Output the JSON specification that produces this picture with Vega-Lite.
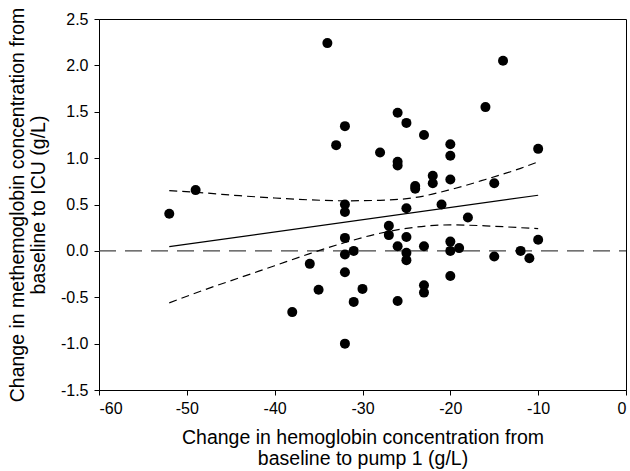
{
  "$schema": "https://vega.github.io/schema/vega-lite/v6.json",
  "autosize": {"type": "none"},
  "padding": {"left": 99, "top": 19, "right": 4, "bottom": 81},
  "width": 527,
  "height": 371,
  "background": "white",
  "config": {
    "view": {"stroke": "#000", "strokeWidth": 1},
    "font": "Liberation Sans",
    "axis": {
      "grid": false,
      "domainColor": "#000",
      "tickColor": "#000",
      "tickSize": 5,
      "labelFont": "Liberation Sans",
      "labelFontSize": 16,
      "labelColor": "#000",
      "titleFont": "Liberation Sans",
      "titleFontSize": 19.5,
      "titleFontWeight": "normal",
      "titleColor": "#000"
    }
  },
  "datasets": {
    "pts": [
      {"x": -52, "y": 0.40}, {"x": -49, "y": 0.655}, {"x": -38, "y": -0.66}, {"x": -36, "y": -0.14},
      {"x": -35, "y": -0.42}, {"x": -34, "y": 2.24}, {"x": -33, "y": 1.14}, {"x": -32, "y": 1.345},
      {"x": -32, "y": 0.50}, {"x": -32, "y": 0.42}, {"x": -32, "y": 0.14}, {"x": -32, "y": -0.04},
      {"x": -32, "y": -0.23}, {"x": -32, "y": -1.0}, {"x": -31, "y": 0.0}, {"x": -31, "y": -0.55},
      {"x": -30, "y": -0.41}, {"x": -28, "y": 1.06}, {"x": -27, "y": 0.27}, {"x": -27, "y": 0.17},
      {"x": -26, "y": 1.49}, {"x": -26, "y": 0.96}, {"x": -26, "y": 0.92}, {"x": -26, "y": 0.05},
      {"x": -26, "y": -0.54}, {"x": -25, "y": 1.38}, {"x": -25, "y": 0.46}, {"x": -25, "y": 0.15},
      {"x": -25, "y": -0.02}, {"x": -25, "y": -0.10}, {"x": -24, "y": 0.70}, {"x": -24, "y": 0.67},
      {"x": -23, "y": 1.25}, {"x": -23, "y": 0.05}, {"x": -23, "y": -0.37}, {"x": -23, "y": -0.45},
      {"x": -22, "y": 0.81}, {"x": -22, "y": 0.73}, {"x": -21, "y": 0.50}, {"x": -20, "y": 1.15},
      {"x": -20, "y": 1.025}, {"x": -20, "y": 0.77}, {"x": -20, "y": 0.10}, {"x": -20, "y": 0.0},
      {"x": -20, "y": -0.27}, {"x": -19, "y": 0.03}, {"x": -18, "y": 0.36}, {"x": -16, "y": 1.55},
      {"x": -15, "y": 0.73}, {"x": -15, "y": -0.06}, {"x": -14, "y": 2.05}, {"x": -12, "y": 0.0},
      {"x": -11, "y": -0.08}, {"x": -10, "y": 1.10}, {"x": -10, "y": 0.12}
    ],
    "zero": [{"x": -60, "y": 0}, {"x": 0, "y": 0}],
    "fit": [{"x": -52, "y": 0.045}, {"x": -10, "y": 0.60}],
    "ci": [
      {"x": -52, "y": 0.65, "b": "upper"}, {"x": -48, "y": 0.625, "b": "upper"}, {"x": -44, "y": 0.595, "b": "upper"},
      {"x": -40, "y": 0.57, "b": "upper"}, {"x": -36, "y": 0.55, "b": "upper"}, {"x": -32, "y": 0.54, "b": "upper"},
      {"x": -28, "y": 0.545, "b": "upper"}, {"x": -24, "y": 0.575, "b": "upper"}, {"x": -20, "y": 0.66, "b": "upper"},
      {"x": -16, "y": 0.77, "b": "upper"}, {"x": -12, "y": 0.89, "b": "upper"}, {"x": -10, "y": 0.96, "b": "upper"},
      {"x": -52, "y": -0.56, "b": "lower"}, {"x": -48, "y": -0.42, "b": "lower"}, {"x": -44, "y": -0.29, "b": "lower"},
      {"x": -40, "y": -0.16, "b": "lower"}, {"x": -36, "y": -0.03, "b": "lower"}, {"x": -32, "y": 0.09, "b": "lower"},
      {"x": -28, "y": 0.19, "b": "lower"}, {"x": -24, "y": 0.255, "b": "lower"}, {"x": -20, "y": 0.28, "b": "lower"},
      {"x": -16, "y": 0.27, "b": "lower"}, {"x": -12, "y": 0.25, "b": "lower"}, {"x": -10, "y": 0.24, "b": "lower"}
    ]
  },
  "encoding": {
    "x": {
      "field": "x", "type": "quantitative",
      "scale": {"domain": [-60, 0], "nice": false, "zero": false},
      "axis": {
        "values": [-60, -50, -40, -30, -20, -10, 0],
        "labelExpr": "replace(format(datum.value, 'd'), '\u2212', '-')",
        "labelPadding": 5,
        "title": ["Change in hemoglobin concentration from", "baseline to pump 1 (g/L)"],
        "titlePadding": 12,
        "titleLineHeight": 21
      }
    },
    "y": {
      "field": "y", "type": "quantitative",
      "scale": {"domain": [-1.5, 2.5], "nice": false, "zero": false},
      "axis": {
        "values": [-1.5, -1.0, -0.5, 0.0, 0.5, 1.0, 1.5, 2.0, 2.5],
        "labelExpr": "replace(format(datum.value, '.1f'), '\u2212', '-')",
        "labelPadding": 6,
        "title": ["Change in methemoglobin concentration from", "baseline to ICU (g/L)"],
        "titlePadding": 12,
        "titleLineHeight": 21
      }
    }
  },
  "layer": [
    {
      "data": {"name": "zero"},
      "mark": {"type": "line", "color": "#444", "strokeWidth": 1.2, "strokeDash": [17, 9]}
    },
    {
      "data": {"name": "fit"},
      "mark": {"type": "line", "color": "#000", "strokeWidth": 1.2}
    },
    {
      "data": {"name": "ci"},
      "mark": {"type": "line", "color": "#000", "strokeWidth": 1.2, "strokeDash": [8, 5], "interpolate": "monotone"},
      "encoding": {"detail": {"field": "b", "type": "nominal"}}
    },
    {
      "data": {"name": "pts"},
      "mark": {"type": "point", "filled": true, "color": "#000", "opacity": 1, "size": 100}
    }
  ]
}
